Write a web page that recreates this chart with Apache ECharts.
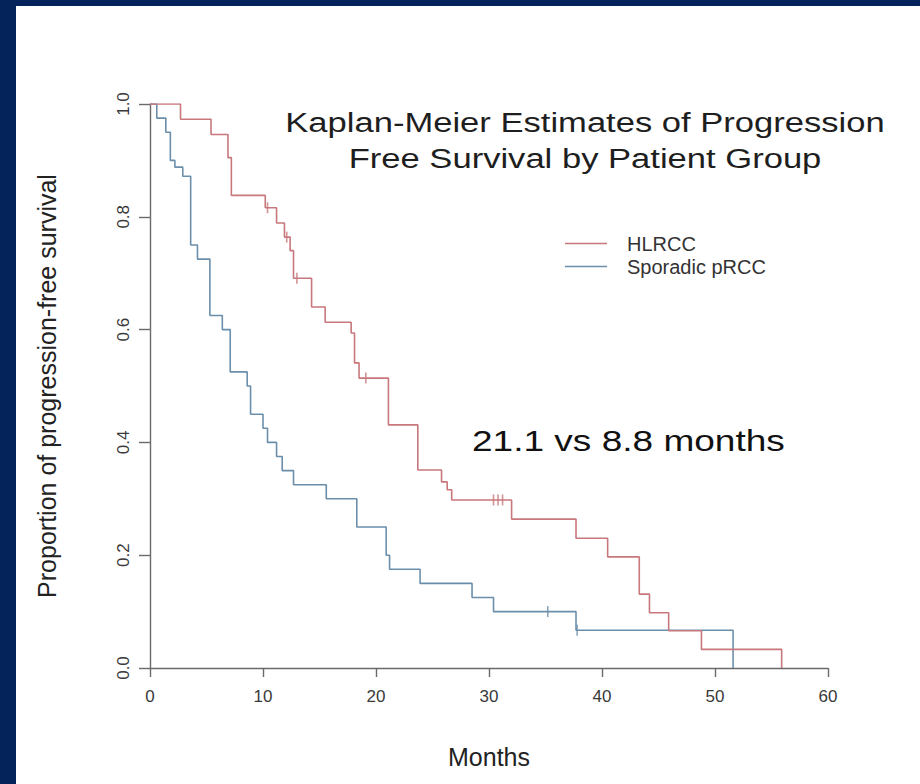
<!DOCTYPE html>
<html>
<head>
<meta charset="utf-8">
<script src="https://cdn.jsdelivr.net/npm/echarts@6/dist/echarts.min.js"></script>
<style>
  html, body { margin: 0; padding: 0; background: #ffffff; }
  #frame { position: relative; width: 920px; height: 784px; background: #ffffff; overflow: hidden; }
  .band { position: absolute; background: #03235a; }
  #chart { position: absolute; left: 0; top: 0; width: 920px; height: 784px; }
</style>
</head>
<body>
<div id="frame">
  <div class="band" style="left:0;top:0;width:920px;height:6px;"></div>
  <div class="band" style="left:0;top:0;width:16px;height:784px;"></div>
  <div id="chart"></div>
</div>
<script>
// Kaplan-Meier step curves: event times (months) and survival after each step
const hlrccTime = [0, 2.7, 5.4, 6.9, 7.2, 10.2, 11.2, 11.9, 12.4, 12.7, 14.3, 15.5, 17.8, 18.1, 18.5, 21.1, 23.7, 25.8, 26.3, 26.7, 32.0, 37.7, 40.5, 43.3, 44.2, 45.9, 48.8, 55.9];
const hlrccSurv = [1.0, 0.973, 0.946, 0.905, 0.838, 0.816, 0.789, 0.764, 0.74, 0.691, 0.640, 0.613, 0.594, 0.541, 0.514, 0.431, 0.351, 0.33, 0.316, 0.298, 0.264, 0.23, 0.197, 0.131, 0.098, 0.066, 0.033, 0];

const sporTime = [0, 0.6, 1.4, 1.8, 2.2, 2.9, 3.6, 4.2, 5.3, 6.4, 7.1, 8.6, 8.9, 10.0, 10.4, 11.2, 11.7, 12.7, 15.6, 18.3, 20.9, 21.2, 23.9, 28.5, 30.4, 37.7, 51.6];
const sporSurv = [1.0, 0.975, 0.95, 0.9, 0.888, 0.872, 0.75, 0.725, 0.625, 0.6, 0.525, 0.5, 0.45, 0.425, 0.4, 0.375, 0.35, 0.325, 0.3, 0.25, 0.2, 0.175, 0.15, 0.125, 0.1, 0.067, 0];

// censored observations (tick marks on the curves)
const hlrccCensorTime = [10.4, 12.1, 13.0, 19.1, 30.4, 30.8, 31.2];
const hlrccCensorSurv = [0.816, 0.764, 0.691, 0.514, 0.298, 0.298, 0.298];
const sporCensorTime = [35.2, 37.8];
const sporCensorSurv = [0.1, 0.067];

const xTicks = [0, 10, 20, 30, 40, 50, 60];
const yTicks = [0, 0.2, 0.4, 0.6, 0.8, 1.0];

const groupNames = ['HLRCC', 'Sporadic pRCC'];
const colors = ['#c8787c', '#6b8fab'];

const pairs = (xs, ys) => xs.map((x, i) => [x, ys[i]]);

const FONT = "'Liberation Sans', Arial, sans-serif";
const axisColor = '#6a6a6a';

const chart = echarts.init(document.getElementById('chart'), null, { renderer: 'svg' });

chart.setOption({
  backgroundColor: 'transparent',
  animation: false,
  grid: { left: 150, right: 92, top: 104, bottom: 116 },
  legend: {
    data: groupNames,
    orient: 'vertical',
    left: 560,
    top: 227,
    icon: 'rect',
    itemWidth: 42,
    itemHeight: 1.6,
    itemGap: 0,
    textStyle: { fontFamily: FONT, fontSize: 20, color: '#333', lineHeight: 23, padding: [0, 0, 0, 15] }
  },
  xAxis: {
    type: 'value',
    min: xTicks[0],
    max: xTicks[xTicks.length - 1],
    interval: 10,
    name: 'Months',
    nameLocation: 'middle',
    nameGap: 76,
    nameTextStyle: { fontFamily: FONT, fontSize: 25, color: '#222' },
    axisLine: { show: true, onZero: false, lineStyle: { color: axisColor, width: 1.4 } },
    axisTick: { show: true, length: 9, lineStyle: { color: axisColor, width: 1.4 } },
    axisLabel: { margin: 20, fontFamily: FONT, fontSize: 17, color: '#3a3a3a' },
    splitLine: { show: false }
  },
  yAxis: {
    type: 'value',
    min: yTicks[0],
    max: yTicks[yTicks.length - 1],
    interval: 0.2,
    name: 'Proportion of progression-free survival',
    nameLocation: 'middle',
    nameRotate: 90,
    nameGap: 91,
    nameTextStyle: { fontFamily: FONT, fontSize: 25, color: '#222' },
    axisLine: { show: true, onZero: false, lineStyle: { color: axisColor, width: 1.4 } },
    axisTick: { show: true, length: 11, lineStyle: { color: axisColor, width: 1.4 } },
    axisLabel: {
      rotate: 90, margin: 18, fontFamily: FONT, fontSize: 17, color: '#3a3a3a',
      formatter: v => v.toFixed(1)
    },
    splitLine: { show: false }
  },
  series: [
    {
      name: groupNames[0], type: 'line', step: 'end', showSymbol: false, symbol: 'none',
      data: pairs(hlrccTime, hlrccSurv),
      lineStyle: { color: colors[0], width: 1.6 }, itemStyle: { color: colors[0] }, z: 3
    },
    {
      name: groupNames[1], type: 'line', step: 'end', showSymbol: false, symbol: 'none',
      data: pairs(sporTime, sporSurv),
      lineStyle: { color: colors[1], width: 1.6 }, itemStyle: { color: colors[1] }, z: 2
    },
    {
      name: groupNames[0], type: 'scatter', symbol: 'rect', symbolSize: [1.6, 11],
      data: pairs(hlrccCensorTime, hlrccCensorSurv),
      itemStyle: { color: colors[0] }, z: 4
    },
    {
      name: groupNames[1], type: 'scatter', symbol: 'rect', symbolSize: [1.6, 11],
      data: pairs(sporCensorTime, sporCensorSurv),
      itemStyle: { color: colors[1] }, z: 4
    }
  ],
  graphic: [
    {
      type: 'text', x: 585, y: 123, scaleX: 1.235,
      style: { text: 'Kaplan-Meier Estimates of Progression', font: "28px " + FONT, fill: '#1e1e1e', textAlign: 'center', textVerticalAlign: 'middle' }
    },
    {
      type: 'text', x: 585, y: 159, scaleX: 1.235,
      style: { text: 'Free Survival by Patient Group', font: "28px " + FONT, fill: '#1e1e1e', textAlign: 'center', textVerticalAlign: 'middle' }
    },
    {
      type: 'text', x: 472, y: 440, scaleX: 1.235,
      style: { text: '21.1 vs 8.8 months', font: "30px " + FONT, fill: '#111', textAlign: 'left', textVerticalAlign: 'middle' }
    }
  ]
});
</script>
</body>
</html>
